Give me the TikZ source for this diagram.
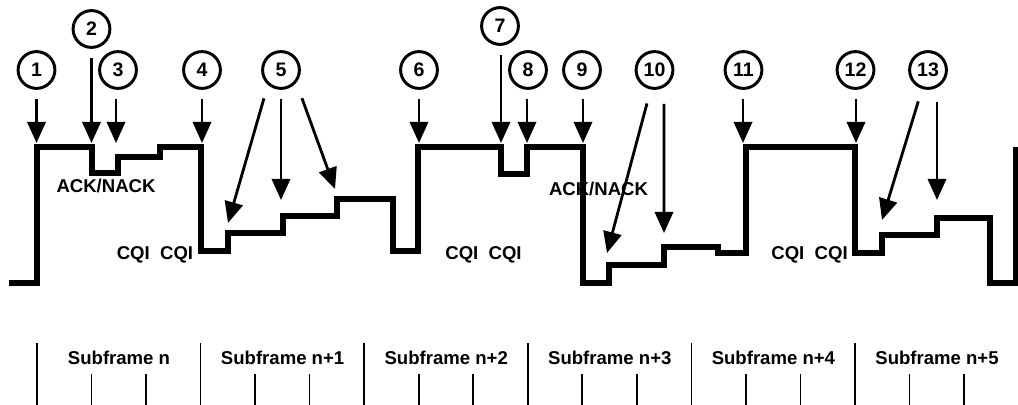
\documentclass[tikz,border=0pt]{standalone}
\usepackage{fontspec}
\setmainfont{Liberation Sans}
\usepackage{tikz}
\usetikzlibrary{arrows.meta}
\tikzset{
	num/.style ={circle, draw=black, line width=2.1pt, minimum size=0.92cm, inner sep=0pt, font=\bfseries\fontsize{13.9pt}{16pt}\selectfont},
	ptr/.style ={-{Triangle[width=13pt, length=15pt]}, line width=2pt, shorten <=0.22cm},
	wave/.style={line width=3.8pt, line join=miter},
	lbl/.style ={inner sep=0pt, anchor=base},
	tick/.style={line width=1.2pt},
}

\begin{document}
\begin{tikzpicture}[x=0.025cm, y=-0.025cm, font=\bfseries\fontsize{13.2pt}{16pt}\selectfont]
	\useasboundingbox (0,0) rectangle (1018,405);
	% numbered markers
	\node[num] (c1) at (36.5,70) {1};
	\node[num] (c2) at (91.5,29) {2};
	\node[num] (c3) at (118,70) {3};
	\node[num] (c4) at (202,70) {4};
	\node[num] (c5) at (281,70) {5};
	\node[num] (c6) at (419,70) {6};
	\node[num] (c7) at (500,26) {7};
	\node[num] (c8) at (528,70) {8};
	\node[num] (c9) at (582,70) {9};
	\node[num] (c10) at (654.5,70) {10};
	\node[num] (c11) at (743.5,70) {11};
	\node[num] (c12) at (855.5,70) {12};
	\node[num] (c13) at (928,70) {13};
	% signal level
	\draw[wave] (9,283) -- (37,283) -- (37,147) -- (92,147) -- (92,173) -- (118,173) -- (118,157) -- (160,157) -- (160,147) -- (201,147) -- (201,251) -- (228,251) -- (228,233) -- (283,233) -- (283,216) -- (337,216) -- (337,199) -- (393,199) -- (393,251) -- (418,251) -- (418,147) -- (501,147) -- (501,174) -- (527,174) -- (527,147) -- (583,147) -- (583,283) -- (609,283) -- (609,265) -- (664,265) -- (664,247) -- (718,247) -- (718,253) -- (746,253) -- (746,147) -- (855,147) -- (855,253) -- (882,253) -- (882,235) -- (937,235) -- (937,218) -- (990,218) -- (990,283) -- (1016,283) -- (1016,147);
	% arrow tips
	\coordinate (t1) at (36.5,143);
	\coordinate (t2) at (91.5,143);
	\coordinate (t3) at (116,143);
	\coordinate (t4) at (202,143);
	\coordinate (t5a) at (228,223);
	\coordinate (t5b) at (281,200);
	\coordinate (t5c) at (335,189);
	\coordinate (t6) at (419,143);
	\coordinate (t7) at (501,143);
	\coordinate (t8) at (527,143);
	\coordinate (t9) at (583,143);
	\coordinate (t10a) at (607,253);
	\coordinate (t10b) at (664,233);
	\coordinate (t11) at (743,143);
	\coordinate (t12) at (856,143);
	\coordinate (t13a) at (882,220);
	\coordinate (t13b) at (937,200);
	\draw[ptr] (t1 |- c1.south) -- (t1);
	\draw[ptr] (t2 |- c2.south) -- (t2);
	\draw[ptr] (t3 |- c3.south) -- (t3);
	\draw[ptr] (t4 |- c4.south) -- (t4);
	\draw[ptr] ([shift={(-14.6,0)}]c5.south) -- (t5a);
	\draw[ptr] (c5.south) -- (t5b);
	\draw[ptr] ([shift={(17.9,0)}]c5.south) -- (t5c);
	\draw[ptr] (t6 |- c6.south) -- (t6);
	\draw[ptr] (t7 |- c7.south) -- (t7);
	\draw[ptr] (t8 |- c8.south) -- (t8);
	\draw[ptr] (t9 |- c9.south) -- (t9);
	\draw[ptr, shorten <=0.35cm] ([shift={(-3.9,0)}]c10.south) -- (t10a);
	\draw[ptr, shorten <=0.35cm] ([shift={(9.5,0)}]c10.south) -- (t10b);
	\draw[ptr] (t11 |- c11.south) -- (t11);
	\draw[ptr] (t12 |- c12.south) -- (t12);
	\draw[ptr, shorten <=0.3cm] ([shift={(-6.2,0)}]c13.south) -- (t13a);
	\draw[ptr, shorten <=0.3cm] ([shift={(9,0)}]c13.south) -- (t13b);
	% labels
	\node[lbl] (ack1) at (106,193) {ACK/NACK};
	\node[lbl] (ack2) at (598.5,196) {ACK/NACK};
	\node[lbl] (cqi1) at (155,260) {CQI\ \ CQI};
	\node[lbl] (cqi2) at (483.5,260) {CQI\ \ CQI};
	\node[lbl] (cqi3) at (809.5,260) {CQI\ \ CQI};
	% subframes
	\foreach \k/\s in {0/n, 1/n+1, 2/n+2, 3/n+3, 4/n+4, 5/n+5} {
		\draw[tick] (37+163.6*\k,343) -- (37+163.6*\k,406);
		\draw[tick] (91.5+163.6*\k,374) -- (91.5+163.6*\k,406);
		\draw[tick] (146+163.6*\k,374) -- (146+163.6*\k,406);
		\node[lbl] (sf\k) at (119+163.6*\k,365) {Subframe \s};
	}
\end{tikzpicture}
\end{document}
